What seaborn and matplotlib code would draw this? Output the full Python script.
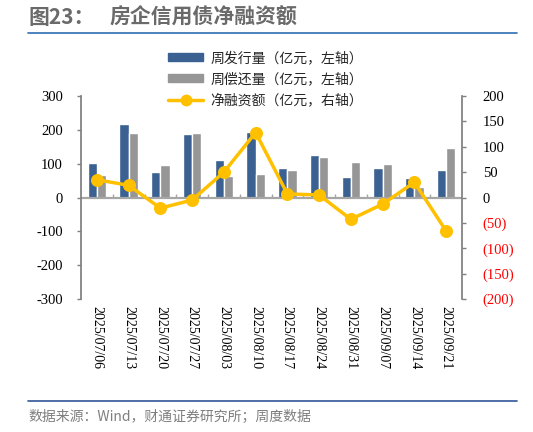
import numpy as np
import pandas as pd
import matplotlib
matplotlib.use("Agg")
import matplotlib.pyplot as plt
import seaborn as sns
from matplotlib.lines import Line2D
from matplotlib.patches import Rectangle

dates = ["2025/07/06", "2025/07/13", "2025/07/20", "2025/07/27", "2025/08/03", "2025/08/10",
         "2025/08/17", "2025/08/24", "2025/08/31", "2025/09/07", "2025/09/14", "2025/09/21"]
issue = [102, 217, 75, 188, 112, 195, 86, 125, 61, 87, 58, 80]
repay = [67, 192, 96, 192, 63, 68, 80, 119, 104, 99, 30, 146]
net = [35, 24, -21, -5, 50, 128, 7, 5, -43, -13, 30, -66]

lab_issue = "周发行量（亿元，左轴）"
lab_repay = "周偿还量（亿元，左轴）"
lab_net = "净融资额（亿元，右轴）"

sns.set_theme(style="white")
cjk = ["Noto Sans CJK SC", "DejaVu Sans"]
plt.rcParams["font.family"] = cjk
plt.rcParams["axes.unicode_minus"] = False

W, H = 533, 432
fig = plt.figure(figsize=(W / 100, H / 100), dpi=100)
ax = fig.add_axes([81 / W, 1 - 299 / H, (462 - 81) / W, (299 - 96) / H])

df = pd.DataFrame({
    "date": dates * 2,
    "value": issue + repay,
    "series": [lab_issue] * len(dates) + [lab_repay] * len(dates),
})
c_blue = "#3A6192"
c_gray = "#969696"
c_gold = "#FFC000"
sns.barplot(data=df, x="date", y="value", hue="series", order=dates,
            hue_order=[lab_issue, lab_repay], palette=[c_blue, c_gray],
            width=0.59, dodge=True, ax=ax, legend=False, saturation=1)
ax.set_xlim(-0.5, len(dates) - 0.5)
ax.set_ylim(-300, 300)
ax.set_yticks(np.arange(-300, 301, 100))
ax.set_yticklabels([f"{v:d}" for v in np.arange(-300, 301, 100)],
                   family="Liberation Serif", fontsize=10.5, color="#000000")
ax.set_xlabel("")
ax.set_ylabel("")
ax.set_xticks(range(len(dates)))
ax.set_xticklabels(dates, rotation=-90, family="Liberation Serif", fontsize=10, color="#000000")
ax.tick_params(axis="x", length=0, pad=5)
ax.tick_params(axis="y", direction="out", length=3, width=1, color="#7f7f7f", pad=10, left=True)
for s in ["top", "bottom"]:
    ax.spines[s].set_visible(False)
ax.spines["left"].set_color("#7f7f7f")
ax.spines["right"].set_visible(False)
ax.axhline(0, color="#a6a6a6", lw=1.6, zorder=1)
ax.vlines(np.arange(0.5, len(dates) - 0.5, 1), 0, 9, color="#a6a6a6", lw=1, zorder=1)

ax2 = ax.twinx()
sns.pointplot(x=dates, y=net, order=dates, color=c_gold, markers="o", linestyles="-",
              errorbar=None, ax=ax2, markersize=7.5, linewidth=2.5)
ax2.set_xlim(-0.5, len(dates) - 0.5)
ax2.set_ylim(-200, 200)
rt = np.arange(-200, 201, 50)
ax2.set_yticks(rt)
ax2.set_yticklabels([f"({-v:d})" if v < 0 else f"{v:d}" for v in rt],
                    family="Liberation Serif", fontsize=10.5)
for t, v in zip(ax2.get_yticklabels(), rt):
    t.set_color("#FF0000" if v < 0 else "#000000")
ax2.set_ylabel("")
ax2.tick_params(axis="y", direction="out", length=3, width=1, color="#7f7f7f", pad=12, right=True)
for s in ["top", "bottom", "left"]:
    ax2.spines[s].set_visible(False)
ax2.spines["right"].set_color("#7f7f7f")
ax2.spines["right"].set_visible(True)

handles = [
    Rectangle((0, 0), 1, 1, color=c_blue),
    Rectangle((0, 0), 1, 1, color=c_gray),
    Line2D([0], [0], color=c_gold, lw=2.5, marker="o", markersize=7.5),
]
fig.legend(handles, [lab_issue, lab_repay, lab_net], loc="upper left",
           bbox_to_anchor=(168 / W, 1 - 51 / H), frameon=False, fontsize=10,
           handlelength=2.55, handleheight=0.42, handletextpad=0.5, labelspacing=0.5,
           borderpad=0, borderaxespad=0)

fig.text(29 / W, 1 - 17 / H, "图23：", fontsize=15, fontweight="bold", color="#6a6a6a",
         va="center", ha="left")
fig.text(110 / W, 1 - 17 / H, "房企信用债净融资额", fontsize=15, fontweight="bold",
         color="#6a6a6a", va="center", ha="left")
fig.add_artist(Line2D([28 / W, 517 / W], [1 - 32.5 / H, 1 - 32.5 / H], color="#2E6DB4", lw=1.2))
fig.add_artist(Line2D([28 / W, 517 / W], [1 - 401 / H, 1 - 401 / H], color="#2F5597", lw=1.2))
fig.text(28 / W, 1 - 417 / H, "数据来源：Wind，财通证券研究所；周度数据", fontsize=10,
         color="#7f7f7f", va="center", ha="left")

fig.savefig("out.png", dpi=100)
